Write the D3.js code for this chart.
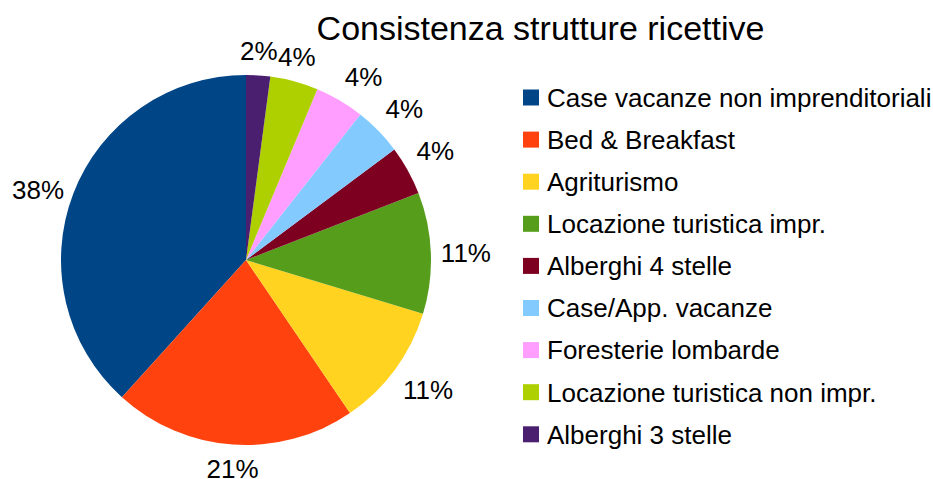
<!DOCTYPE html>
<html>
<head>
<meta charset="utf-8">
<script src="https://cdn.jsdelivr.net/npm/d3@7"></script>
<style>
  body { margin: 0; background: #fff; }
  text { font-family: "Liberation Sans", Arial, sans-serif; fill: #000; }
</style>
</head>
<body>
<svg id="chart" width="933" height="479"></svg>
<script>
const title = 'Consistenza strutture ricettive';

const categories = [
  'Case vacanze non imprenditoriali',
  'Bed & Breakfast',
  'Agriturismo',
  'Locazione turistica impr.',
  'Alberghi 4 stelle',
  'Case/App. vacanze',
  'Foresterie lombarde',
  'Locazione turistica non impr.',
  'Alberghi 3 stelle'
];

// shares (percent)
const values = [38.3, 21.2, 10.8, 10.6, 4.3, 4.2, 4.3, 4.2, 2.1];

const colors = ['#004586', '#ff420e', '#ffd320', '#579d1c', '#7e0021', '#83caff', '#ff9eff', '#aecf00', '#4b1f6f'];

const svg = d3.select('#chart');
const width = 933;
const cx = 246, cy = 260, radius = 185;
const fontSize = 26;

const data = categories.map((name, i) => ({ name, value: values[i], color: colors[i] }));
const total = d3.sum(values);

// LibreOffice draws slices counter-clockwise from 12 o'clock
const pie = d3.pie().sort(null).value((d) => d.value).startAngle(0).endAngle(-2 * Math.PI);
const arc = d3.arc().innerRadius(0).outerRadius(radius);
const arcs = pie(data);

const g = svg.append('g').attr('transform', `translate(${cx},${cy})`);

g.selectAll('path')
  .data(arcs)
  .join('path')
  .attr('d', arc)
  .attr('fill', (d) => d.data.color);

// Percent labels just outside the rim, aligned by octant
const labelGap = 10;
const lim = Math.sin(Math.PI / 8);
g.selectAll('text.pct')
  .data(arcs)
  .join('text')
  .attr('class', 'pct')
  .style('font-size', fontSize + 'px')
  .each(function (d) {
    const a = (d.startAngle + d.endAngle) / 2;
    const dx = Math.sin(a), dy = -Math.cos(a);
    const x = dx * (radius + labelGap);
    const y = dy * (radius + labelGap);
    const anchor = dx > lim ? 'start' : dx < -lim ? 'end' : 'middle';
    let base;
    if (dy > lim) base = y + 0.905 * fontSize;
    else if (dy < -lim) base = y - 0.212 * fontSize;
    else base = y + 0.3465 * fontSize;
    d3.select(this)
      .attr('x', x)
      .attr('y', base)
      .attr('text-anchor', anchor)
      .text(Math.round((d.data.value / total) * 100) + '%');
  });

// Title
svg.append('text')
  .attr('x', 540.5)
  .attr('y', 40)
  .attr('text-anchor', 'middle')
  .style('font-size', '34px')
  .text(title);

// Legend
const legendY = d3.scalePoint().domain(categories).range([97.5, 434.3]);
const legend = svg.append('g');
const item = legend.selectAll('g')
  .data(data)
  .join('g')
  .attr('transform', (d) => `translate(523,${legendY(d.name)})`);

item.append('rect')
  .attr('x', 0)
  .attr('y', -8)
  .attr('width', 16)
  .attr('height', 16)
  .attr('fill', (d) => d.color);

item.append('text')
  .attr('x', 24)
  .attr('y', 0.358 * fontSize)
  .style('font-size', fontSize + 'px')
  .text((d) => d.name);
</script>
</body>
</html>
